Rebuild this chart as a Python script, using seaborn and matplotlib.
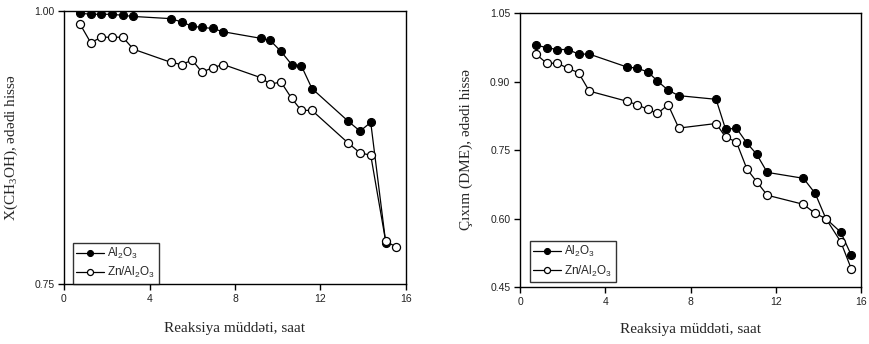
import matplotlib
matplotlib.use("Agg")
from matplotlib import pyplot as plt
import seaborn as sns
import pandas as pd

# reaction time, hours
time_h = [0.75, 1.25, 1.75, 2.25, 2.75, 3.25, 5.0, 5.5, 6.0, 6.45, 6.95, 7.45,
          9.2, 9.65, 10.15, 10.65, 11.1, 11.6, 13.3, 13.85, 14.35, 15.05, 15.55]

# methanol conversion (left panel)
conv_al2o3 = [0.998, 0.997, 0.997, 0.997, 0.996, 0.995, 0.993, 0.990, 0.986, 0.985, 0.984, 0.981,
              0.975, 0.973, 0.963, 0.951, 0.950, 0.929, 0.899, 0.890, 0.898, 0.788]
conv_zn = [0.988, 0.971, 0.976, 0.976, 0.976, 0.965, 0.953, 0.951, 0.955, 0.944, 0.948, 0.951,
           0.939, 0.933, 0.935, 0.920, 0.909, 0.909, 0.879, 0.870, 0.868, 0.789, 0.784]

# DME yield (right panel)
yield_al2o3 = [0.980, 0.974, 0.970, 0.970, 0.960, 0.960, 0.932, 0.929, 0.921, 0.901, 0.881, 0.869,
               0.861, 0.795, 0.798, 0.765, 0.741, 0.701, 0.688, 0.655, 0.600, 0.570, 0.519]
yield_zn = [0.960, 0.940, 0.940, 0.929, 0.919, 0.879, 0.857, 0.849, 0.839, 0.830, 0.849, 0.798,
            0.808, 0.778, 0.768, 0.708, 0.681, 0.651, 0.631, 0.611, 0.600, 0.549, 0.489]

lbl_al = 'Al$_\\mathregular{2}$O$_\\mathregular{3}$'
lbl_zn = 'Zn/Al$_\\mathregular{2}$O$_\\mathregular{3}$'

sns.set_theme(style="ticks")
plt.rcParams['font.family'] = ['Liberation Sans', 'DejaVu Sans']
serif = ['Liberation Serif', 'DejaVu Serif']

W, H = 870, 344
fig = plt.figure(figsize=(W / 100, H / 100), dpi=100)
ax1 = fig.add_axes([64 / W, 1 - 284 / H, 342 / W, 273 / H])
ax2 = fig.add_axes([520 / W, 1 - 287 / H, 341 / W, 274 / H])


def draw(ax, y_filled, y_open, ylim, yticks, ylabel, legend_x, legend_y, xpad, ypad):
    df_f = pd.DataFrame({'t': time_h[:len(y_filled)], 'v': y_filled})
    df_o = pd.DataFrame({'t': time_h[:len(y_open)], 'v': y_open})
    sns.lineplot(data=df_f, x='t', y='v', ax=ax, color='black', marker='o', markersize=5.8,
                 markerfacecolor='black', markeredgecolor='black', linewidth=0.9, label=lbl_al)
    sns.lineplot(data=df_o, x='t', y='v', ax=ax, color='black', marker='o', markersize=5.8,
                 markerfacecolor='white', markeredgecolor='black', markeredgewidth=0.9,
                 linewidth=0.9, label=lbl_zn)
    ax.set_xlim(0, 16)
    ax.set_ylim(*ylim)
    ax.set_xticks([0, 4, 8, 12, 16])
    ax.set_yticks(yticks)
    ax.set_yticklabels([f'{v:.2f}' for v in yticks])
    for s in ax.spines.values():
        s.set_visible(True)
        s.set_linewidth(1.0)
        s.set_color('black')
    ax.tick_params(axis='both', direction='out', length=4, width=1, labelsize=7.5,
                   colors='black', labelcolor='#222222', pad=3)
    ax.set_xlabel('Reaksiya müddəti, saat', family=serif, fontsize=11, labelpad=xpad)
    ax.set_ylabel(ylabel, family=serif, fontsize=11, labelpad=ypad)
    leg = ax.legend(loc='lower left', bbox_to_anchor=(legend_x, legend_y), borderaxespad=0,
                    fontsize=8.5, frameon=True, fancybox=False, edgecolor='black',
                    handlelength=2.3, handletextpad=0.3, labelspacing=0.35, markerscale=0.75,
                    borderpad=0.3)
    leg.get_frame().set_linewidth(1.0)


draw(ax1, conv_al2o3, conv_zn, (0.75, 1.00), [0.75, 1.00],
     'X(CH$_\\mathregular{3}$OH), ədədi hissə', 0.026, 0.0, 13.5, 10)
draw(ax2, yield_al2o3, yield_zn, (0.45, 1.05), [0.45, 0.60, 0.75, 0.90, 1.05],
     'Çıxım (DME), ədədi hissə', 0.029, 0.018, 11.5, 12)

fig.savefig('out.png', dpi=100)
